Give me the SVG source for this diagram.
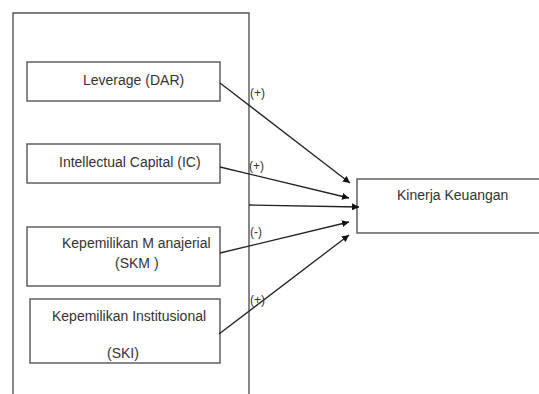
<svg xmlns="http://www.w3.org/2000/svg" width="539" height="394" viewBox="0 0 539 394">
<style>
.box{fill:#fff;stroke:#555;stroke-width:1.4}
.t{font-family:"Liberation Sans",Arial,sans-serif;font-size:14px;fill:#333}
.l{font-family:"Liberation Sans",Arial,sans-serif;font-size:12px;fill:#333}
.c{stroke:#222;stroke-width:1.3;fill:none;marker-end:url(#ah)}
</style>
<defs>
<marker id="ah" viewBox="0 0 10 10" refX="10" refY="5" markerWidth="7" markerHeight="7" markerUnits="userSpaceOnUse" orient="auto">
<path d="M0,0 L10,5 L0,10 z" fill="#111"/>
</marker>
</defs>
<rect width="539" height="394" fill="#fff"/>
<g id="outer"><path d="M13,400 V13 H249 V400" class="box" fill="none"/></g>
<g id="n-dar"><rect class="box" x="27" y="62" width="193" height="39"/><text class="t" x="83" y="85">Leverage (DAR)</text></g>
<g id="n-ic"><rect class="box" x="27" y="144" width="193" height="39"/><text class="t" x="59" y="167">Intellectual Capital (IC)</text></g>
<g id="n-skm"><rect class="box" x="27" y="227" width="193" height="59"/><text class="t" x="62" y="248">Kepemilikan M anajerial</text><text class="t" x="115" y="268">(SKM )</text></g>
<g id="n-ski"><rect class="box" x="30" y="299" width="190" height="64"/><text class="t" x="52" y="321">Kepemilikan Institusional</text><text class="t" x="107" y="358">(SKI)</text></g>
<g id="n-kk"><rect class="box" x="357" y="179" width="190" height="54"/><text class="t" x="397" y="200">Kinerja Keuangan</text></g>
<g id="connectors">
<line class="c" x1="220" y1="83" x2="350" y2="183"/>
<line class="c" x1="220" y1="167" x2="349" y2="198"/>
<line class="c" x1="249" y1="205" x2="359" y2="207"/>
<line class="c" x1="220" y1="253" x2="349" y2="222"/>
<line class="c" x1="219" y1="334" x2="349" y2="235"/>
</g>
<g id="labels">
<text class="l" x="250" y="97">(+)</text>
<text class="l" x="249" y="170">(+)</text>
<text class="l" x="250" y="236">(-)</text>
<text class="l" x="250" y="304">(+)</text>
</g>
</svg>
